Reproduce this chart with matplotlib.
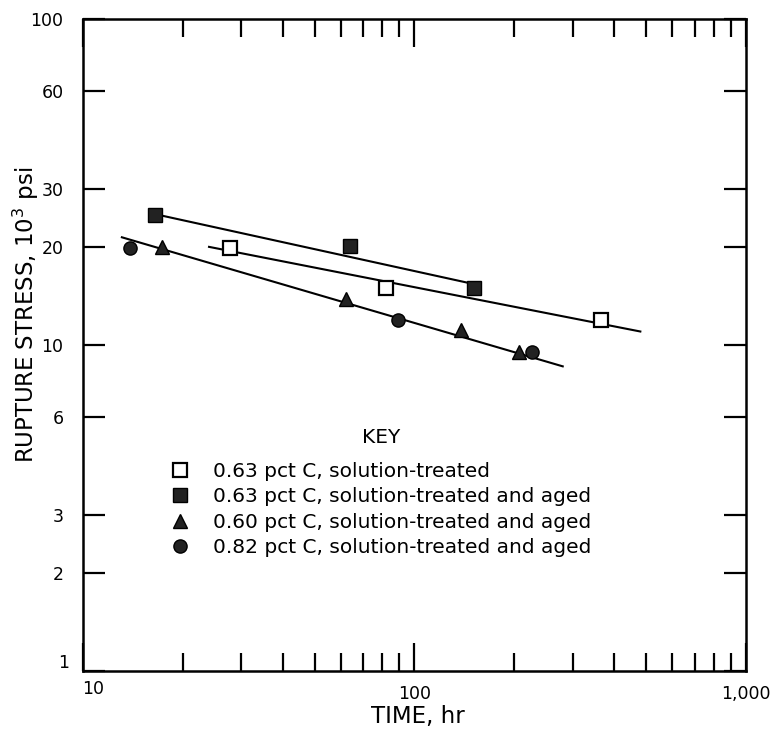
import numpy as np
import matplotlib
matplotlib.use('Agg')
from matplotlib import pyplot as plt
from matplotlib.ticker import FixedLocator, NullFormatter, NullLocator

plt.rcParams['font.family'] = 'DejaVu Sans'
plt.rcParams['mathtext.default'] = 'regular'

# data
time_open = [27.7, 82, 365]
stress_open = [19.9, 15.0, 11.9]
time_sq = [16.5, 64, 151]
stress_sq = [25.1, 20.1, 15.0]
time_tri = [17.3, 62, 138, 206]
stress_tri = [20.0, 13.8, 11.1, 9.5]
time_circ = [13.9, 89, 226]
stress_circ = [19.9, 11.9, 9.5]

# fitted lines (end points)
line_sq_x = [16.5, 150]
line_sq_y = [25.2, 15.4]
line_open_x = [24, 480]
line_open_y = [20.0, 11.0]
line_tc_x = [13.1, 280]
line_tc_y = [21.4, 8.6]

labels = ['0.63 pct C, solution-treated',
          '0.63 pct C, solution-treated and aged',
          '0.60 pct C, solution-treated and aged',
          '0.82 pct C, solution-treated and aged']

y_ticks = [1, 2, 3, 6, 10, 20, 30, 60, 100]
y_ticklabels = ['', '2', '3', '6', '10', '20', '30', '60', '100']
x_ticks = [10, 100, 1000]
x_ticklabels = ['', '100', '1,000']
x_minor = [20, 30, 40, 50, 60, 70, 80, 90, 200, 300, 400, 500, 600, 700, 800, 900]

fig = plt.figure(figsize=(7.76, 7.32), dpi=100)
ax = fig.add_axes([83/776, 1 - 671/732, 663/776, 652/732])
ax.set_xscale('log')
ax.set_yscale('log')
ax.set_xlim(10, 1000)
ax.set_ylim(1, 100)

lw = 1.5
ax.plot(line_sq_x, line_sq_y, color='black', lw=lw)
ax.plot(line_open_x, line_open_y, color='black', lw=lw)
ax.plot(line_tc_x, line_tc_y, color='black', lw=lw)

ms = 9.5
h1, = ax.plot(time_open, stress_open, 's', ms=ms, mfc='white', mec='black', mew=1.6, label=labels[0])
h2, = ax.plot(time_sq, stress_sq, 's', ms=ms, mfc='#222222', mec='black', label=labels[1])
h3, = ax.plot(time_tri, stress_tri, '^', ms=ms + 1, mfc='#222222', mec='black', label=labels[2])
h4, = ax.plot(time_circ, stress_circ, 'o', ms=ms, mfc='#222222', mec='black', label=labels[3])

leg = ax.legend(handles=[h1, h2, h3, h4], title='KEY', frameon=False,
                loc='upper left', bbox_to_anchor=(0.1325, 0.373),
                fontsize=14.5, title_fontsize=14.5, handlelength=0.9,
                handletextpad=1.2, labelspacing=0.31, borderpad=0,
                borderaxespad=0)
leg._legend_box.sep = 11

# ticks
ax.yaxis.set_major_locator(FixedLocator(y_ticks))
ax.set_yticklabels(y_ticklabels)
ax.yaxis.set_minor_locator(NullLocator())
ax.xaxis.set_major_locator(FixedLocator(x_ticks))
ax.set_xticklabels(x_ticklabels)
ax.xaxis.set_minor_locator(FixedLocator(x_minor))
ax.xaxis.set_minor_formatter(NullFormatter())

ax.tick_params(axis='y', which='major', direction='in', length=16, width=1.6,
               left=True, right=True, labelsize=12.5, pad=14)
ax.tick_params(axis='x', which='major', direction='in', length=20, width=1.6,
               top=True, bottom=True, labelsize=12.5, pad=10)
ax.tick_params(axis='x', which='minor', direction='in', length=13, width=1.6,
               top=True, bottom=True)

for s in ax.spines.values():
    s.set_linewidth(1.8)

ax.annotate('1', xy=(10, 1), xycoords='data', xytext=(-14, 6),
            textcoords='offset points', ha='center', va='center', fontsize=12.5)
ax.annotate('10', xy=(10, 1), xycoords='data', xytext=(7, -13),
            textcoords='offset points', ha='center', va='center', fontsize=12.5)

ax.set_xlabel('TIME, hr', fontsize=16.5)
ax.xaxis.set_label_coords(0.505, -0.052)
ax.set_ylabel('RUPTURE STRESS, 10$^{3}$ psi', fontsize=16.5)
ax.yaxis.set_label_coords(-0.064, 0.546)

fig.savefig('out.png', dpi=100)
